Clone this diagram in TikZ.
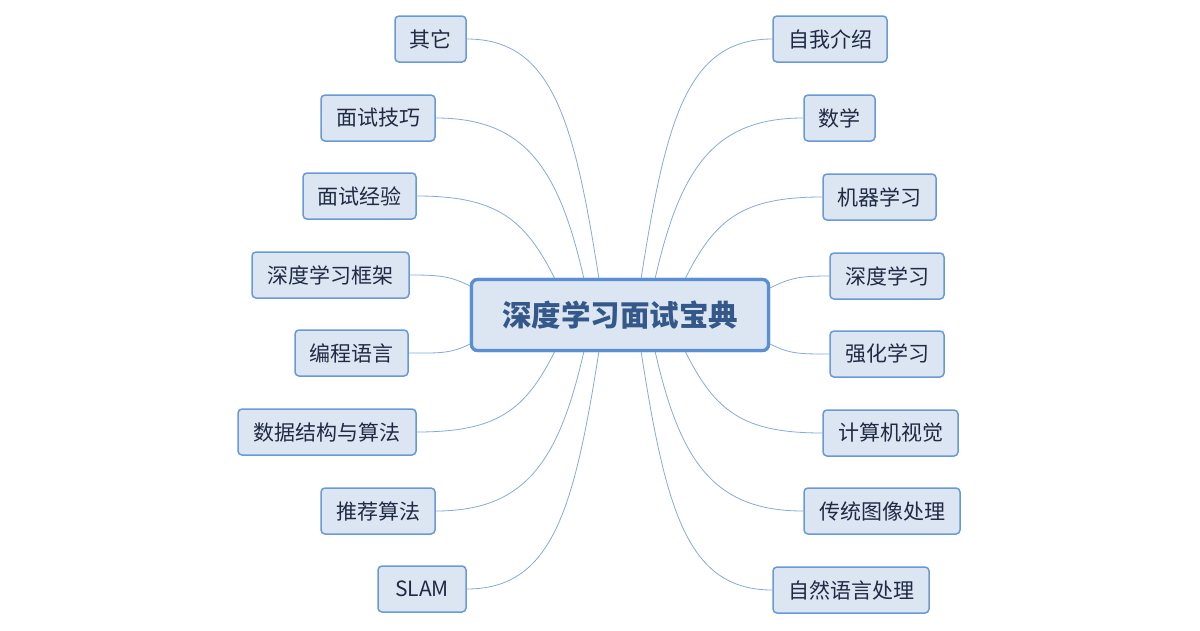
\documentclass[tikz,border=0pt]{standalone}
\usepackage{fontspec}
\setmainfont{Noto Sans CJK SC}
\newfontfamily\cjk{Noto Sans CJK SC}
\definecolor{nodefill}{HTML}{DCE6F2}
\definecolor{nodeline}{HTML}{6A9AD6}
\definecolor{centerline}{HTML}{5B8FD3}
\definecolor{textcol}{HTML}{1F2A44}
\definecolor{centertext}{HTML}{35588A}
\definecolor{linkcol}{HTML}{86AADB}
\begin{document}
\begin{tikzpicture}[x=1pt,y=-1pt,
  topic/.style={draw=nodeline,line width=1.5pt,fill=nodefill,rounded corners=4pt,
    minimum height=46pt,inner sep=0pt,font=\cjk\fontsize{21}{24}\selectfont,text=textcol},
  central/.style={draw=centerline,line width=3.2pt,fill=nodefill,rounded corners=6pt,
    minimum width=297pt,minimum height=71pt,inner sep=0pt,
    font=\cjk\bfseries\fontsize{29.5}{32}\selectfont,text=centertext},
  link/.style={draw=linkcol,line width=0.8pt}]
\useasboundingbox (0,0) rectangle (1200,630);
\fill[white] (0,0) rectangle (1200,630);

\node[central] (c) at (620,315) {深度学习面试宝典};

% left nodes
\node[topic,minimum width=71pt]  (l1) at (430.5,39)  {其它};
\node[topic,minimum width=114pt] (l2) at (378,118)   {面试技巧};
\node[topic,minimum width=113pt] (l3) at (359.5,196) {面试经验};
\node[topic,minimum width=157pt] (l4) at (330.5,275) {深度学习框架};
\node[topic,minimum width=113pt] (l5) at (351.5,353) {编程语言};
\node[topic,minimum width=178pt] (l6) at (327,432)   {数据结构与算法};
\node[topic,minimum width=114pt] (l7) at (378,511)   {推荐算法};
\node[topic,minimum width=88pt]  (l8) at (422,589)   {SLAM};

% right nodes
\node[topic,minimum width=114pt] (r1) at (830,39)    {自我介绍};
\node[topic,minimum width=71pt]  (r2) at (839.5,118) {数学};
\node[topic,minimum width=113pt] (r3) at (879.5,197) {机器学习};
\node[topic,minimum width=114pt] (r4) at (887,276)   {深度学习};
\node[topic,minimum width=114pt] (r5) at (887,354)   {强化学习};
\node[topic,minimum width=135pt] (r6) at (890.5,433) {计算机视觉};
\node[topic,minimum width=156pt] (r7) at (882,511)   {传统图像处理};
\node[topic,minimum width=156pt] (r8) at (851,590)   {自然语言处理};

% connector anchor points on the central node
\coordinate (t1) at (599,279);
\coordinate (t2) at (584,279);
\coordinate (t3) at (555,279);
\coordinate (w1) at (470,286);
\coordinate (w2) at (470,344);
\coordinate (b1) at (555,351);
\coordinate (b2) at (584,351);
\coordinate (b3) at (599,351);
\coordinate (u1) at (641,279);
\coordinate (u2) at (655,279);
\coordinate (u3) at (685,279);
\coordinate (e1) at (770,288);
\coordinate (e2) at (770,344);
\coordinate (d1) at (685,351);
\coordinate (d2) at (655,351);
\coordinate (d3) at (641,351);

% left connectors
\draw[link] (t1) .. controls +(-25,-160) and +(85,0) .. (l1.east);
\draw[link] (t2) .. controls +(-25,-110) and +(90,0) .. (l2.east);
\draw[link] (t3) .. controls +(-30,-60) and +(80,0) .. (l3.east);
\draw[link] (w1) .. controls +(-20,-10) and +(30,0) .. (l4.east);
\draw[link] (w2) .. controls +(-20,10) and +(30,0) .. (l5.east);
\draw[link] (b1) .. controls +(-30,60) and +(80,0) .. (l6.east);
\draw[link] (b2) .. controls +(-25,110) and +(90,0) .. (l7.east);
\draw[link] (b3) .. controls +(-25,160) and +(85,0) .. (l8.east);

% right connectors
\draw[link] (u1) .. controls +(25,-160) and +(-85,0) .. (r1.west);
\draw[link] (u2) .. controls +(25,-110) and +(-90,0) .. (r2.west);
\draw[link] (u3) .. controls +(30,-60) and +(-80,0) .. (r3.west);
\draw[link] (e1) .. controls +(20,-10) and +(-30,0) .. (r4.west);
\draw[link] (e2) .. controls +(20,10) and +(-30,0) .. (r5.west);
\draw[link] (d1) .. controls +(30,60) and +(-80,0) .. (r6.west);
\draw[link] (d2) .. controls +(25,110) and +(-90,0) .. (r7.west);
\draw[link] (d3) .. controls +(25,160) and +(-85,0) .. (r8.west);

% redraw central node on top
\node[central] at (620,315) {深度学习面试宝典};
\end{tikzpicture}
\end{document}
